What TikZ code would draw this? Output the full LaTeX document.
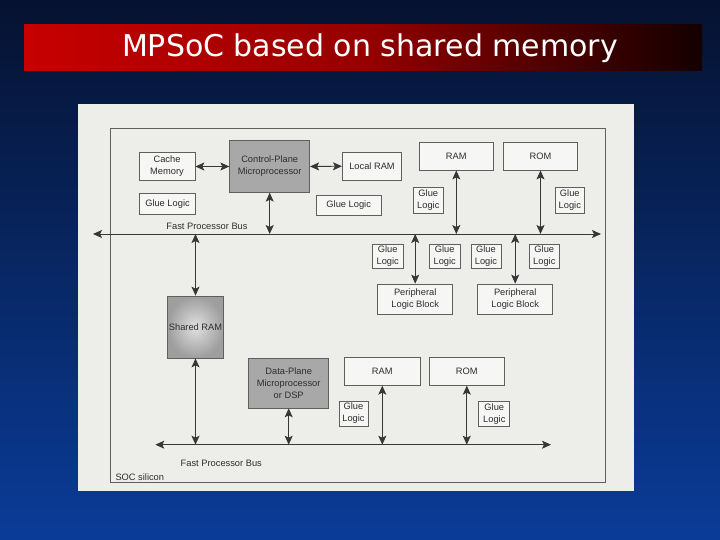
\documentclass[tikz,border=0pt]{standalone}
\usepackage{fontspec}
\setmainfont{Liberation Sans}
\newfontfamily\titlefont{DejaVu Sans}
\usetikzlibrary{arrows.meta}
\definecolor{bgtop}{RGB}{6,18,48}
\definecolor{bgbot}{RGB}{10,60,152}
\definecolor{tred}{RGB}{200,0,0}
\definecolor{tmid}{RGB}{150,0,0}
\definecolor{tdark}{RGB}{20,0,0}
\definecolor{panel}{RGB}{237,237,234}
\definecolor{boxfill}{RGB}{246,246,245}
\definecolor{boxline}{RGB}{95,95,95}
\definecolor{txt}{RGB}{45,45,45}
\definecolor{linec}{RGB}{55,55,55}
\definecolor{procgray}{RGB}{168,168,168}
\tikzset{
  box/.style={draw=boxline, fill=boxfill, line width=0.7pt, inner sep=0pt, align=center,
    font=\fontsize{9.3}{12}\selectfont, text=txt},
  procbox/.style={box, fill=procgray},
  tip/.tip={Stealth[length=9pt,width=8pt,inset=2pt]},
  conn/.style={tip-tip, line width=0.9pt, draw=linec},
  lbl/.style={font=\fontsize{9.3}{11}\selectfont, text=txt, inner sep=0pt}
}
\begin{document}
\begin{tikzpicture}[x=1pt,y=-1pt]
\useasboundingbox (0,0) rectangle (720,540);
\shade[top color=bgtop, bottom color=bgbot] (0,0) rectangle (720,540);
% title bar
\shade[left color=tred, right color=tdark, middle color=tmid] (24,25) rectangle (702,71);
\node[text=white, font=\titlefont\fontsize{30}{32}\selectfont] (title) at (370,48) {MPSoC based on shared memory};
% panel
\fill[panel] (78,104) rectangle (634,491);
\draw[boxline, line width=0.7pt] (110.3,128.3) rectangle (605.5,482.8);
\node[lbl, anchor=west] (soc) at (115.3,477) {SOC silicon};
% top row
\node[box, minimum width=56pt, minimum height=28pt] (cache) at (167,166.5) {Cache\\Memory};
\node[procbox, minimum width=80pt, minimum height=51.6pt] (cp) at (269.7,166.5) {Control-Plane\\Microprocessor};
\node[box, minimum width=59.4pt, minimum height=27.7pt] (lram) at (372,166.2) {Local RAM};
\node[box, minimum width=55.6pt, minimum height=21.4pt] (glueA) at (167.5,204) {Glue Logic};
\node[box, minimum width=64.7pt, minimum height=20pt] (glueB) at (348.7,205.5) {Glue Logic};
\node[box, minimum width=74pt, minimum height=27.7pt] (ramT) at (456.3,156.2) {RAM};
\node[box, minimum width=74.4pt, minimum height=27.7pt] (romT) at (540.5,156.2) {ROM};
\node[box, minimum width=30pt, minimum height=26pt] (glueC) at (428.3,200.3) {Glue\\Logic};
\node[box, minimum width=29pt, minimum height=26pt] (glueD) at (569.8,200.3) {Glue\\Logic};
% top bus
\coordinate (bus1l) at (93,234);
\coordinate (bus1r) at (601,234);
\draw[conn] (bus1l) -- (bus1r);
\node[lbl] (bus1lbl) at (207,226.7) {Fast Processor Bus};
% below top bus
\node[box, minimum width=31pt, minimum height=24pt] (glueE) at (387.7,256) {Glue\\Logic};
\node[box, minimum width=31pt, minimum height=24pt] (glueF) at (444.7,256) {Glue\\Logic};
\node[box, minimum width=30pt, minimum height=24pt] (glueG) at (486,256) {Glue\\Logic};
\node[box, minimum width=30pt, minimum height=24pt] (glueH) at (544.3,256) {Glue\\Logic};
\node[box, minimum width=75pt, minimum height=30pt] (per1) at (415.2,299) {Peripheral\\Logic Block};
\node[box, minimum width=75pt, minimum height=30pt] (per2) at (515.2,299) {Peripheral\\Logic Block};
% shared RAM
\node[box, inner color=white!88!black, outer color=black!38, minimum width=56.4pt, minimum height=62pt] (sram) at (195.5,327) {Shared RAM};
% bottom section
\node[procbox, minimum width=80pt, minimum height=49.3pt] (dp) at (288.7,383.3) {Data-Plane\\Microprocessor\\or DSP};
\node[box, minimum width=75.3pt, minimum height=28pt] (ramB) at (382.3,371.3) {RAM};
\node[box, minimum width=75pt, minimum height=28pt] (romB) at (466.8,371.3) {ROM};
\node[box, minimum width=29pt, minimum height=25pt] (glueI) at (353.5,413.5) {Glue\\Logic};
\node[box, minimum width=31pt, minimum height=25pt] (glueJ) at (494.3,413.8) {Glue\\Logic};
\coordinate (bus2l) at (155.3,444.7);
\coordinate (bus2r) at (551,444.7);
\draw[conn] (bus2l) -- (bus2r);
\node[lbl] (bus2lbl) at (221.3,463) {Fast Processor Bus};
% connectors
\draw[conn] (cache.east) -- (cp.west);
\draw[conn] (cp.east) -- (lram.west);
\draw[conn] (cp.south) -- (cp.south |- bus1l);
\draw[conn] (ramT.south) -- (ramT.south |- bus1l);
\draw[conn] (romT.south) -- (romT.south |- bus1l);
\draw[conn] (per1.north |- bus1l) -- (per1.north);
\draw[conn] (per2.north |- bus1l) -- (per2.north);
\draw[conn] (sram.north |- bus1l) -- (sram.north);
\draw[conn] (sram.south) -- (sram.south |- bus2l);
\draw[conn] (dp.south) -- (dp.south |- bus2l);
\draw[conn] (ramB.south) -- (ramB.south |- bus2l);
\draw[conn] (romB.south) -- (romB.south |- bus2l);
\end{tikzpicture}
\end{document}
